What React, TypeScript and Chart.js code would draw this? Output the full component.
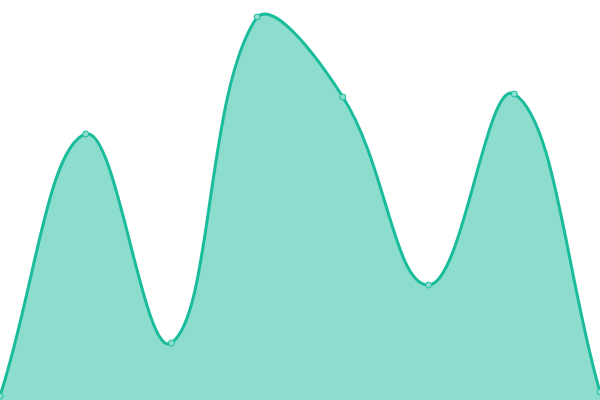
import { useEffect, useRef } from "react"
import { Chart, registerables } from "chart.js"

Chart.register(...registerables)

const labels = ["A", "B", "C", "D", "E", "F", "G", "H"]
const values = [1, 66.5, 14.25, 95.75, 75.75, 28.75, 76.5, 2]

export default function App() {
  const chartRef = useRef<HTMLCanvasElement>(null)

  useEffect(() => {
    document.body.style.margin = "0"
    if (!chartRef.current) return
    const chart = new Chart(chartRef.current, {
      type: "line",
      data: {
        labels,
        datasets: [
          {
            data: values,
            fill: true,
            tension: 0.4,
            borderColor: "#1abc9c",
            backgroundColor: "rgba(26, 188, 156, 0.5)",
            borderWidth: 3,
            pointRadius: 3,
            pointBorderWidth: 1,
            pointBackgroundColor: "rgba(140, 222, 206, 1)",
            pointBorderColor: "#1abc9c",
          },
        ],
      },
      options: {
        animation: false,
        responsive: false,
        maintainAspectRatio: false,
        layout: { padding: 0, autoPadding: false },
        scales: {
          x: { display: false, offset: false },
          y: { display: false, min: 0, max: 100 },
        },
        plugins: {
          legend: { display: false },
          tooltip: { enabled: false },
        },
      },
    })
    return () => chart.destroy()
  }, [])

  return (
    <div style={{ width: 600, height: 400 }}>
      <canvas ref={chartRef} width={600} height={400}></canvas>
    </div>
  )
}
